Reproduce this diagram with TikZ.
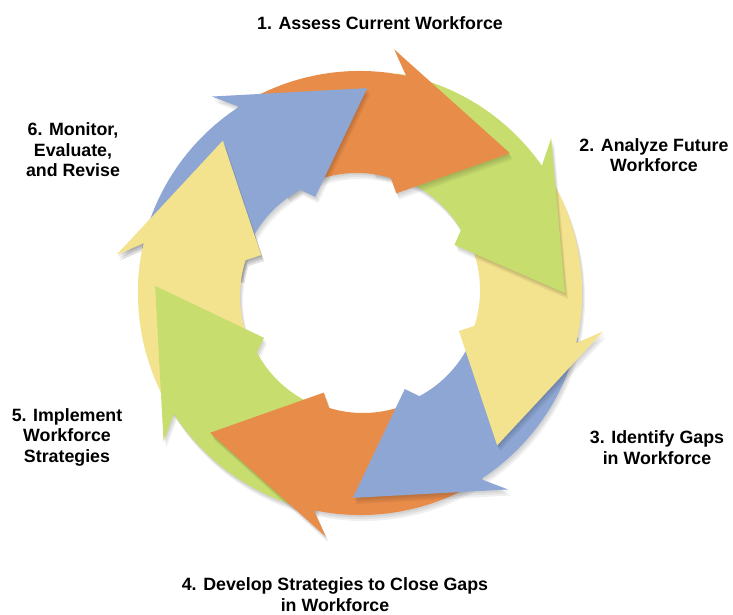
\documentclass[tikz,border=0pt]{standalone}
\usepackage{fontspec}
\setmainfont{Liberation Sans}
\usepackage{tikz}
\definecolor{arrowblue}{RGB}{141,166,212}
\definecolor{arroworange}{RGB}{232,140,74}
\definecolor{arrowgreen}{RGB}{199,222,110}
\definecolor{arrowyellow}{RGB}{244,227,142}
\tikzset{
  x=1pt, y=1pt,
  steplabel/.style={font=\bfseries\fontsize{17.8}{20.5}\selectfont, align=center, inner sep=0pt},
  arrowshade/.style={fill=black, opacity=0.06}
}
% one curved arrow of the ring, #1 = angle of its tip
\newcommand{\ringarrow}[1]{(#1:205) -- ({#1+39}:246) -- ({#1+35}:222)
  arc[start angle={#1+35}, end angle={#1+80}, radius=224]
  -- ({#1+84}:121)
  arc[start angle={#1+84}, end angle={#1+30}, radius=116]
  -- ({#1+27}:106) -- cycle}
\newcommand{\arrowshadow}[1]{%
  \fill[arrowshade, shift={(1,-2)}] \ringarrow{#1};
  \fill[arrowshade, shift={(2,-4)}] \ringarrow{#1};
  \fill[arrowshade, shift={(3,-6)}] \ringarrow{#1};}

\begin{document}
\begin{tikzpicture}
  \fill[white] (0,0) rectangle (733,614);
  \useasboundingbox (0,0) rectangle (733,614);
  \begin{scope}[shift={(360,321)}]
    \foreach \t/\c in {132/arrowyellow, 178/arrowgreen, -137/arroworange, -92/arrowblue,
                       -48/arrowyellow, 0/arrowgreen, 43/arroworange, 88/arrowblue}
      {\arrowshadow{\t}
       \fill[\c] \ringarrow{\t};}
    % last head goes over the tail of the first arrow
    \begin{scope}
      \clip (0,0) -- (118:320) -- (146:320) -- (175:320) -- cycle;
      \arrowshadow{132}
    \end{scope}
    \begin{scope}
      \clip (0,0) -- (118:320) -- (146:320) -- (178:320) -- cycle;
      \fill[arrowyellow] \ringarrow{132};
    \end{scope}
  \end{scope}
  \node[steplabel, anchor=base] (assess) at (380,584) {1. Assess Current Workforce};
  \node[steplabel, anchor=base] (analyze) at (654,442) {2. Analyze Future\\Workforce};
  \node[steplabel, anchor=base] (identify) at (657,150) {3. Identify Gaps\\in Workforce};
  \node[steplabel, anchor=base] (develop) at (335,3) {4. Develop Strategies to Close Gaps\\in Workforce};
  \node[steplabel, anchor=base] (implement) at (67,152) {5. Implement\\Workforce\\Strategies};
  \node[steplabel, anchor=base] (monitor) at (73,437) {6. Monitor,\\Evaluate,\\and Revise};
\end{tikzpicture}
\end{document}
